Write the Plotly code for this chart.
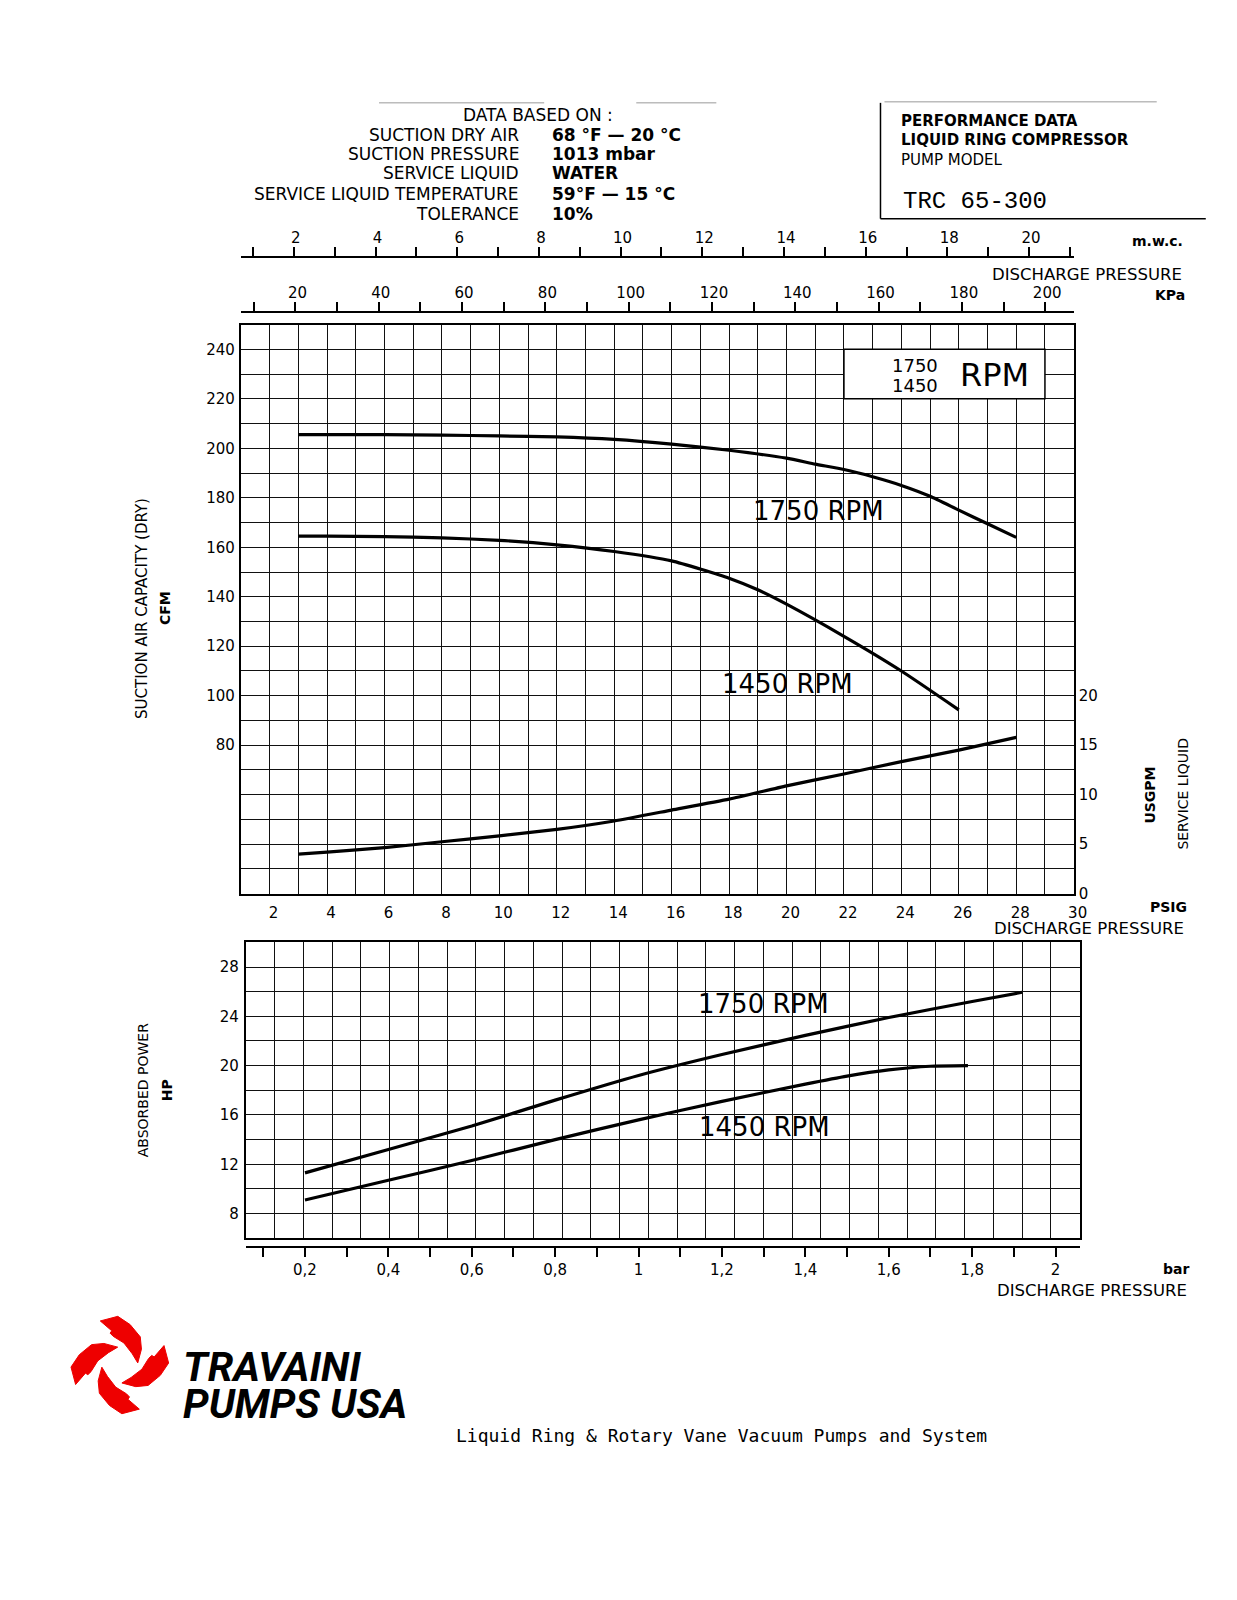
import plotly.graph_objects as go

W, H = 1237, 1600
FONT = "DejaVu Sans"

# ---------------- data ----------------
# Main chart: discharge pressure in PSIG
psi_1750 = [3, 4, 6, 8, 10, 12, 14, 16, 18, 20, 21, 22, 23, 24, 25, 26, 27, 28]
cfm_1750 = [205.5, 205.5, 205.5, 205.3, 205.0, 204.6, 203.6, 201.7, 199.2, 196.0, 193.6,
            191.4, 188.5, 185.0, 180.6, 175.0, 169.5, 164.0]

psi_1450 = [3, 4, 6, 8, 10, 12, 14, 16, 18, 19, 20, 22, 24, 26]
cfm_1450 = [164.5, 164.5, 164.3, 163.8, 162.8, 161.0, 158.3, 154.5, 147.5, 142.8, 137.0,
            124.0, 110.0, 94.3]

psi_water = [3, 4, 6, 8, 10, 12, 14, 16, 18, 20, 22, 24, 26, 28]
usgpm_water = [4.0, 4.2, 4.65, 5.25, 5.85, 6.5, 7.35, 8.45, 9.55, 10.9, 12.1, 13.35, 14.5, 15.8]

# Absorbed power chart: discharge pressure in bar
bar_1750 = [0.2, 0.4, 0.6, 0.8, 1.0, 1.2, 1.4, 1.6, 1.8, 1.92]
hp_1750 = [11.3, 13.2, 15.1, 17.2, 19.2, 20.9, 22.45, 23.9, 25.2, 25.95]

bar_1450 = [0.2, 0.4, 0.6, 0.8, 1.0, 1.2, 1.4, 1.5, 1.6, 1.7, 1.79]
hp_1450 = [9.1, 10.7, 12.3, 14.0, 15.6, 17.1, 18.5, 19.15, 19.65, 19.95, 20.0]

# tick values / labels
psig_ticks = list(range(1, 31))
cfm_ticks = list(range(20, 251, 10))
usgpm_ticks = [0, 5, 10, 15, 20]
mwc_ticks = list(range(1, 22))
kpa_ticks = list(range(10, 201, 10))
hp_ticks = list(range(6, 31, 2))
bar_ticks = [round(0.1 * i, 1) for i in range(1, 21)]

header_rows = [
    ("SUCTION DRY AIR", "68 °F — 20 °C"),
    ("SUCTION PRESSURE", "1013 mbar"),
    ("SERVICE LIQUID", "WATER"),
    ("SERVICE LIQUID TEMPERATURE", "59°F — 15 °C"),
    ("TOLERANCE", "10%"),
]

# unit conversions (to align the extra pressure scales)
PSI_PER_MWC = 1.42233
PSI_PER_KPA = 0.1450377
PSI_PER_BAR = 14.5038

# ---------------- helpers ----------------
def px(x):
    return ((x - 4.3) / 0.9878) / W


def py(y):
    return 1 - ((y + 2.0) / 0.9958) / H


annotations = []
shapes = []


def ann(text, x, y, size=14, xanchor="center", yanchor="middle", angle=0,
        family=FONT, color="black"):
    annotations.append(dict(
        text=text, x=px(x), y=py(y), xref="paper", yref="paper",
        showarrow=False, xanchor=xanchor, yanchor=yanchor, textangle=angle,
        font=dict(family=family, size=size, color=color)))


def hline(x0, x1, y, color="black", width=1.5):
    shapes.append(dict(type="line", xref="paper", yref="paper",
                       x0=px(x0), x1=px(x1), y0=py(y), y1=py(y),
                       line=dict(color=color, width=width)))


def vline(x, y0, y1, color="black", width=1.5):
    shapes.append(dict(type="line", xref="paper", yref="paper",
                       x0=px(x), x1=px(x), y0=py(y0), y1=py(y1),
                       line=dict(color=color, width=width)))


# ---------------- figure ----------------
fig = go.Figure()
line_style = dict(color="black", width=3.2, shape="spline", smoothing=0.5)

fig.add_trace(go.Scatter(x=psi_1750, y=cfm_1750, mode="lines", line=line_style,
                         xaxis="x", yaxis="y", name="1750 RPM", hoverinfo="skip"))
fig.add_trace(go.Scatter(x=psi_1450, y=cfm_1450, mode="lines", line=line_style,
                         xaxis="x", yaxis="y", name="1450 RPM", hoverinfo="skip"))
fig.add_trace(go.Scatter(x=psi_water, y=usgpm_water, mode="lines", line=line_style,
                         xaxis="x", yaxis="y2", name="Service liquid", hoverinfo="skip"))
fig.add_trace(go.Scatter(x=bar_1750, y=hp_1750, mode="lines", line=line_style,
                         xaxis="x4", yaxis="y3", name="1750 RPM HP", hoverinfo="skip"))
fig.add_trace(go.Scatter(x=bar_1450, y=hp_1450, mode="lines", line=line_style,
                         xaxis="x4", yaxis="y3", name="1450 RPM HP", hoverinfo="skip"))

# invisible carriers so the extra pressure scales get drawn
fig.add_trace(go.Scatter(x=[mwc_ticks[0], mwc_ticks[-1]], y=[30, 30], mode="markers",
                         marker=dict(opacity=0), xaxis="x2", yaxis="y", hoverinfo="skip"))
fig.add_trace(go.Scatter(x=[kpa_ticks[0], kpa_ticks[-1]], y=[30, 30], mode="markers",
                         marker=dict(opacity=0), xaxis="x3", yaxis="y", hoverinfo="skip"))
fig.add_trace(go.Scatter(x=[bar_ticks[0], bar_ticks[-1]], y=[7, 7], mode="markers",
                         marker=dict(opacity=0), xaxis="x5", yaxis="y3", hoverinfo="skip"))

grid = dict(showgrid=True, gridcolor="#111", gridwidth=1.2, zeroline=False,
            showline=True, linecolor="black", linewidth=2, mirror=True, ticks="")
tickfont = dict(family=FONT, size=15, color="black")

# bottom chart: x in bar, grid lines every 1 psi
BL, BR = 250, 1083                         # plot edges (px)
BPX_PER_BAR = (BR - BL) / (29 / PSI_PER_BAR)
B0 = 0.2 - (309 - BL) / BPX_PER_BAR
B1 = B0 + 29 / PSI_PER_BAR
bar_grid = [B0 + k / PSI_PER_BAR for k in range(30)]

free_axis = dict(ticks="outside", ticklen=9, tickwidth=1.5, tickcolor="black",
                 showline=True, linecolor="black", linewidth=1.5,
                 showgrid=False, zeroline=False, tickfont=tickfont, tickmode="array")

fig.update_layout(
    width=W, height=H, margin=dict(l=0, r=0, t=0, b=0),
    paper_bgcolor="white", plot_bgcolor="white", showlegend=False,
    xaxis=dict(domain=[px(245), px(1077)], range=[1, 30], anchor="y",
               tickmode="array", tickvals=psig_ticks,
               ticktext=[str(v) if v % 2 == 0 else "" for v in psig_ticks],
               tickfont=tickfont, ticklabelstandoff=4, ticklabelshift=4, **grid),
    yaxis=dict(domain=[py(893), py(323)], range=[20, 250], anchor="x",
               tickmode="array", tickvals=cfm_ticks,
               ticktext=[str(v) if (v >= 80 and v % 20 == 0) else "" for v in cfm_ticks],
               tickfont=tickfont, ticklabelstandoff=1, **grid),
    yaxis2=dict(overlaying="y", side="right", anchor="x", range=[0, 57.5],
                tickmode="array", tickvals=usgpm_ticks,
                ticktext=[str(v) for v in usgpm_ticks], tickfont=tickfont,
                showgrid=False, zeroline=False, showline=False, ticks="",
                ticklabelstandoff=4),
    xaxis2=dict(overlaying="x", anchor="free", position=py(255), side="top",
                range=[1 / PSI_PER_MWC, 30 / PSI_PER_MWC], tickvals=mwc_ticks,
                ticklabelstandoff=-2, ticklabelshift=2,
                ticktext=[str(v) if v % 2 == 0 else "" for v in mwc_ticks], **free_axis),
    xaxis3=dict(overlaying="x", anchor="free", position=py(310), side="top",
                range=[1 / PSI_PER_KPA, 30 / PSI_PER_KPA], tickvals=kpa_ticks,
                ticklabelstandoff=-2, ticklabelshift=2,
                ticktext=[str(v) if v % 20 == 0 else "" for v in kpa_ticks], **free_axis),
    xaxis4=dict(domain=[px(BL), px(BR)], range=[B0, B1], anchor="y3",
                tickmode="array", tickvals=bar_grid, ticktext=[""] * len(bar_grid),
                **grid),
    yaxis3=dict(domain=[py(1238), py(941.7)], range=[6, 30], anchor="x4",
                tickmode="array", tickvals=hp_ticks,
                ticktext=[str(v) if (v >= 8 and v % 4 == 0 and v <= 28) else "" for v in hp_ticks],
                tickfont=tickfont, ticklabelstandoff=2, **grid),
    xaxis5=dict(overlaying="x4", anchor="free", position=py(1247), side="bottom",
                range=[B0, B1], tickvals=bar_ticks,
                ticktext=[(("%g" % v).replace(".", ",") if round(v * 10) % 2 == 0 else "")
                          for v in bar_ticks], **free_axis),
)

# legend box inside main chart
shapes.append(dict(type="rect", xref="x", yref="y", x0=22, x1=29, y0=220, y1=240,
                   fillcolor="white", line=dict(color="black", width=1.5), layer="above"))
ann("1750", 918, 364, size=18)
ann("1450", 918, 384, size=18)
ann("RPM", 998, 374, size=32)

# curve labels
ann("1750 RPM", 822, 510, size=26)
ann("1450 RPM", 791, 683, size=26)
ann("1750 RPM", 767, 1003, size=26)
ann("1450 RPM", 768, 1127, size=26)

# axis titles
ann("SUCTION AIR CAPACITY (DRY)", 146, 607, size=15, angle=-90)
ann("<b>CFM</b>", 169, 607, size=14, angle=-90)
ann("SERVICE LIQUID", 1186, 793, size=14, angle=-90)
ann("<b>USGPM</b>", 1153, 794, size=14, angle=-90)
ann("ABSORBED POWER", 148, 1090, size=14, angle=-90)
ann("<b>HP</b>", 172, 1090, size=14, angle=-90)

ann("<b>m.w.c.</b>", 1161, 239, size=14)
ann("DISCHARGE PRESSURE", 1090, 273, size=16.5)
ann("<b>KPa</b>", 1173, 293, size=14)
ann("<b>PSIG</b>", 1172, 906, size=14)
ann("DISCHARGE PRESSURE", 1092, 928, size=16.5)
ann("<b>bar</b>", 1179, 1269, size=14)
ann("DISCHARGE PRESSURE", 1095, 1290, size=16.5)

# header
hline(383, 548, 101, color="#999", width=1)
hline(640, 720, 101, color="#999", width=1)
ann("DATA BASED ON :", 542, 113, size=17)
row_y = [132.7, 152, 171.5, 192, 212]
for (lab, val), yy in zip(header_rows, row_y):
    ann(lab, 525, yy, size=17, xanchor="right")
    ann("<b>" + val + "</b>", 554, yy, size=17, xanchor="left")

# title box (top right)
hline(888, 1160, 100, color="#999", width=1)
vline(884, 101, 217, width=1.5)
hline(884, 1209, 217, width=1.5)
ann("<b>PERFORMANCE DATA</b>", 902, 119, size=15, xanchor="left")
ann("<b>LIQUID RING COMPRESSOR</b>", 902, 138, size=15, xanchor="left")
ann("PUMP MODEL", 902, 158, size=15, xanchor="left")
ann("TRC 65-300", 904, 200, size=24, xanchor="left", family="Liberation Mono")

# logo (red swirl) made of four rotated blades
blade = [(-21.2, -48), (-2.2, -53), (11.2, -44), (22.2, -30.7), (23.5, -17.3),
         (19.5, -2.3), (13.5, -12.3), (4.5, -24), (-7.2, -31.3), (-10.5, -34.7),
         (-8.8, -37.3)]
cx, cy, sc = 124.0, 1365, 0.92
for k in range(4):
    pts = blade
    for _ in range(k):
        pts = [(-y, x) for (x, y) in pts]
    path = "M " + " L ".join("%.5f,%.5f" % (px(cx + sc * x), py(cy + sc * y))
                             for x, y in pts) + " Z"
    shapes.append(dict(type="path", xref="paper", yref="paper", path=path,
                       fillcolor="#ee0000", line=dict(color="#ee0000", width=1)))

ann("<b><i>TRAVAINI</i></b>", 185, 1367, size=41, xanchor="left", family="Roboto")
ann("<b><i>PUMPS USA</i></b>", 185, 1404, size=41, xanchor="left", family="Roboto")
ann("Liquid Ring &amp; Rotary Vane Vacuum Pumps and System", 458, 1436, size=18,
    xanchor="left", family="DejaVu Sans Mono")

fig.update_layout(annotations=annotations, shapes=shapes)
fig.write_html("out.html")
